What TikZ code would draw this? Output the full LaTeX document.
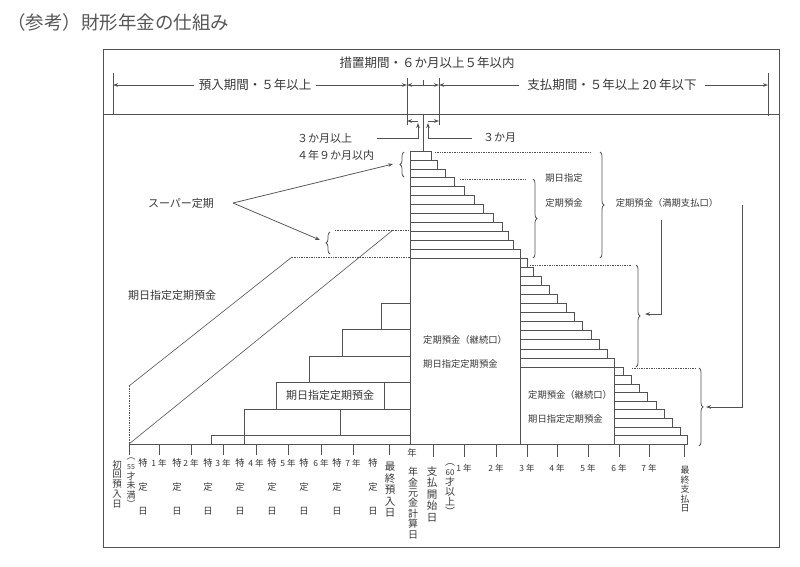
\documentclass[tikz,border=0pt]{standalone}
\usepackage{fontspec}
\setmainfont{Noto Sans CJK JP}
\usetikzlibrary{arrows.meta,decorations.pathreplacing}
\definecolor{ink}{gray}{0.32}
\definecolor{txt}{gray}{0.22}
\begin{document}
\begin{tikzpicture}[x=1pt,y=-1pt,
  ln/.style={draw=ink,line width=0.75pt},
  thin/.style={draw=ink,line width=0.6pt},
  dl/.style={draw=ink,line width=0.7pt,densely dotted},
  tip/.style={-{Stealth[length=5pt,width=3.6pt]}},
  arr/.style={ln,tip},
  lab/.style={text=txt,inner sep=0pt,font=\fontsize{11}{12}\selectfont},
  big/.style={text=txt,inner sep=0pt,font=\fontsize{12.5}{13}\selectfont},
  sm/.style={text=txt,inner sep=0pt,font=\fontsize{9.3}{10}\selectfont},
  vl/.style={text=txt,inner sep=0pt,align=center,anchor=north},
  brc/.style={ln,decorate,decoration={brace,amplitude=4pt}},
]
\useasboundingbox (0,0) rectangle (800,566);
\node[anchor=west,text=txt!85,inner sep=0pt,font=\fontsize{18.5}{20}\selectfont] (title) at (7,22) {（参考）財形年金の仕組み};
\draw[ln] (103,49) rectangle (779,547);
\draw[ln] (103,114) -- (779,114);
% period row
\node[big] (sochi) at (427,63) {措置期間・６か月以上５年以内};
\node[big,inner xsep=5pt] (azuke) at (255,85) {預入期間・５年以上};
\node[big,inner xsep=8pt] (shiharai) at (612,85) {支払期間・５年以上 20 年以下};
\coordinate (L0) at (113,85);
\coordinate (L1) at (407,85);
\coordinate (L2) at (439,85);
\coordinate (L3) at (768,85);
\draw[ln] (113,73) -- (113,114);
\draw[ln] (768,73) -- (768,116);
\draw[ln] (407,78) -- (407,125);
\draw[ln] (439,78) -- (439,125);
\draw[arr] (azuke.west) -- (L0);
\draw[arr] (azuke.east) -- (L1);
\draw[arr] (shiharai.west) -- (L2);
\draw[arr] (shiharai.east) -- (L3);
\draw[ln,{Stealth[length=5pt,width=3.6pt]}-{Stealth[length=5pt,width=3.6pt]}] (L1) -- (L2);
\draw[ln] (423,85) -- (423,80);
% second row
\coordinate (m0) at (423,114);
\coordinate (m1) at (423,151);
\draw[ln] (m0) -- (m1);
\draw[arr] (418,121) -- (407,121);
\draw[arr] (428,121) -- (439,121);
\node[lab,anchor=west] (t3a) at (297,138) {３か月以上};
\node[lab,anchor=west] (t49) at (297,155) {４年９か月以内};
\node[lab,anchor=west] (t3) at (483,138) {３か月};
\draw[arr] (377,138) -- (418,138) -- (418,123);
\draw[arr] (472,138) -- (428,138) -- (428,123);
% staircases
\foreach \r [count=\i from 0] in {431,437,445,454,464,474,483,493,502,508,513,520}
  \draw[thin] (410,{151+\i*8.917}) rectangle (\r,{151+(\i+1)*8.917});
\draw[thin] (410,258) rectangle (520,444);
\foreach \r [count=\i from 0] in {527,533,541,549,557,566,574,582,591,599,607,614}
  \draw[thin] (520,{258+\i*9.083}) rectangle (\r,{258+(\i+1)*9.083});
\draw[thin] (520,367) rectangle (614,444);
\foreach \r [count=\i from 0] in {623,631,639,647,656,664,672,680,687}
  \draw[thin] (614,{367+\i*8.556}) rectangle (\r,{367+(\i+1)*8.556});
% left steps
\draw[thin] (381,303) rectangle (410,329);
\draw[thin] (342,329) rectangle (410,356);
\draw[thin] (309,356) rectangle (410,382);
\draw[thin] (276,382) rectangle (410,409);
\draw[thin] (384,382) -- (384,409);
\draw[thin] (244,409) rectangle (410,444);
\draw[thin] (340,409) -- (340,435);
\draw[thin] (211,435) rectangle (410,444);
% band
\draw[thin] (129,386) -- (292,257);
\draw[thin] (129,444) -- (393,230);
\draw[dl] (129,386) -- (129,444);
\draw[dl] (292,257) -- (410,257);
\draw[dl] (335,230) -- (410,230);
% axis
\draw[ln] (129,444) -- (688,444);
\foreach \x in {129,159,191,223,256,288,321,353,389} \draw[thin] (\x,444) -- (\x,455);
\foreach \x in {433,464,496,527,557,588,619,649,684} \draw[thin] (\x,444) -- (\x,457);
% braces
\draw[dl] (435,152) -- (590,152);
\draw[brc] (600,152) -- (600,258);
\draw[dl] (460,179) -- (525,179);
\draw[brc] (533,179) -- (533,258);
\draw[dl] (530,265) -- (632,265);
\draw[brc] (636,265) -- (636,367);
\draw[dl] (632,368) -- (695,368);
\draw[brc] (699,368) -- (699,446);
\draw[brc] (404,177) -- (404,152);
\draw[brc] (330,254) -- (330,232);
% labels
\node[lab] (super) at (181,203) {スーパー定期};
\coordinate (spo) at (233,203);
\coordinate (sp1) at (393,164);
\coordinate (sp2) at (320,240);
\draw[arr] (spo) -- (sp1);
\draw[arr] (spo) -- (sp2);
\node[lab,anchor=west] (kijitsu) at (128,295) {期日指定定期預金};
\node[lab] (kbox) at (330,395) {期日指定定期預金};
\node[sm] (kj1) at (564,178) {期日指定};
\node[sm] (kj2) at (564,203) {定期預金};
\node[sm] (manki) at (667,203) {定期預金（満期支払口）};
\node[sm,anchor=west] (kz1) at (423,340) {定期預金（継続口）};
\node[sm,anchor=west] (kz2) at (423,364) {期日指定定期預金};
\node[sm,anchor=west] (kz3) at (528,395) {定期預金（継続口）};
\node[sm,anchor=west] (kz4) at (528,419) {期日指定定期預金};
\coordinate (a1) at (661,220);
\coordinate (a1e) at (645,314);
\coordinate (a2) at (742,205);
\coordinate (a2e) at (706,407);
\draw[arr] (a1) |- (a1e);
\draw[arr] (a2) |- (a2e);
% bottom labels
\node[vl,font=\fontsize{9.5}{9.8}\selectfont] (shokai) at (117,460) {初\\回\\預\\入\\日};
\node[vl,font=\fontsize{9}{9.6}\selectfont] (u55) at (131,458) {︵\\{\fontsize{7}{7}\selectfont 55}\\才\\未\\満\\︶};
\foreach \x [count=\i] in {143,177,208,240,272,304,337,373} {
  \node[sm] (tk\i) at (\x,463) {特};
  \node[sm] (tt\i) at (\x,487) {定};
  \node[sm] (tn\i) at (\x,511) {日};
}
\foreach \x/\yy in {159/1,191/2,223/3,256/4,288/5,321/6,353/7}
  \node[sm,font=\fontsize{8.5}{9}\selectfont] (yl\yy) at (\x,463) {\yy\ 年};
\node[vl,font=\fontsize{10.5}{11.5}\selectfont] (saishu) at (390,462) {最\\終\\預\\入\\日};
\node[sm] (nen) at (412,453) {年};
\node[vl,font=\fontsize{10}{10.4}\selectfont] (keisan) at (413,467) {年\\金\\元\\金\\計\\算\\日};
\node[vl,font=\fontsize{10.5}{11.5}\selectfont] (kaishi) at (432,466) {支\\払\\開\\始\\日};
\node[vl,font=\fontsize{10}{10}\selectfont] (o60) at (450,463) {︵\\{\fontsize{8}{8}\selectfont 60}\\才\\以\\上\\︶};
\foreach \x/\yy in {464/1,496/2,527/3,557/4,588/5,619/6,649/7}
  \node[sm,font=\fontsize{8.5}{9}\selectfont] (yr\yy) at (\x,468) {\yy\ 年};
\node[vl,font=\fontsize{9}{9.6}\selectfont] (saishushi) at (685,466) {最\\終\\支\\払\\日};
\end{tikzpicture}
\end{document}
